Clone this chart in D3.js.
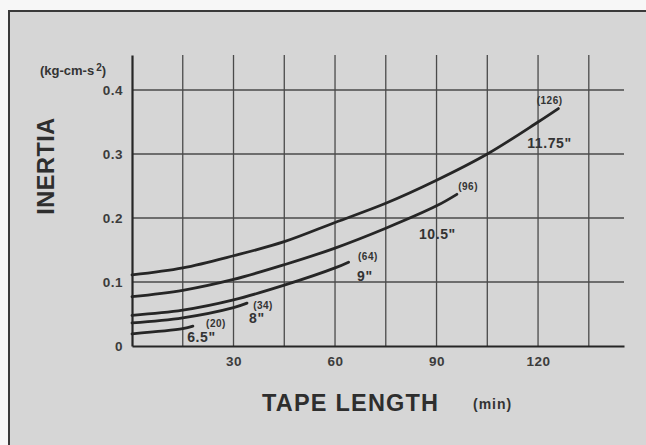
<!DOCTYPE html>
<html>
<head>
<meta charset="utf-8">
<script src="https://cdn.jsdelivr.net/npm/d3@7.9.0/dist/d3.min.js"></script>
<style>
  html, body { margin: 0; overflow: hidden; background: #f7f7f7; }
  svg { display: block; font-family: "Liberation Sans", Arial, sans-serif; font-weight: bold; }
</style>
</head>
<body>
<svg id="chart" width="646" height="445"></svg>
<script>
// reel sizes and their inertia curves (tape length in min, inertia in kg-cm-s^2)
const reels = ["11.75\"", "10.5\"", "9\"", "8\"", "6.5\""];
const maxLengths = ["(126)", "(96)", "(64)", "(34)", "(20)"];

const reel1175 = [[0, 0.111], [15, 0.122], [30, 0.141], [45, 0.163], [60, 0.193], [75, 0.223], [90, 0.259], [105, 0.300], [120, 0.350], [126, 0.371]];
const reel105 = [[0, 0.077], [15, 0.087], [30, 0.104], [45, 0.127], [60, 0.153], [75, 0.184], [90, 0.219], [96, 0.237]];
const reel9 = [[0, 0.048], [15, 0.056], [30, 0.072], [45, 0.095], [60, 0.122], [64, 0.131]];
const reel8 = [[0, 0.036], [15, 0.044], [30, 0.060], [34, 0.067]];
const reel65 = [[0, 0.019], [15, 0.027], [18, 0.031]];
const series = [reel1175, reel105, reel9, reel8, reel65];

const xTicks = [30, 60, 90, 120];
const xGrid = [15, 30, 45, 60, 75, 90, 105, 120, 135];
const yTicks = [0, 0.1, 0.2, 0.3, 0.4];

// label anchors in data units: [min, inertia]
const sizeLabelAt = [[116.8, 0.309], [84.8, 0.167], [66.5, 0.102], [34.6, 0.036], [16.3, 0.006]];
const lengthLabelAt = [[119.6, 0.378], [96.4, 0.244], [66.8, 0.134], [35.8, 0.058], [21.9, 0.030]];

const svg = d3.select("#chart");

// paper panel, border on left and top
svg.append("rect")
  .attr("x", 9).attr("y", 11)
  .attr("width", 640).attr("height", 440)
  .attr("fill", "#d6d6d6");
svg.append("path")
  .attr("d", "M9,445V11H646")
  .attr("fill", "none")
  .attr("stroke", "#3a3a3a")
  .attr("stroke-width", 2);

const x = d3.scaleLinear().domain([0, 145.4]).range([132, 624]);
const y = d3.scaleLinear().domain([0, 0.4547]).range([346, 55]);

const ink = "#262626";
const gridInk = "#4a4a4a";

// grid
svg.append("g")
  .selectAll("line")
  .data(xGrid)
  .join("line")
  .attr("x1", (d) => x(d)).attr("x2", (d) => x(d))
  .attr("y1", y(0)).attr("y2", y.range()[1])
  .attr("stroke", gridInk)
  .attr("stroke-width", 1.3);

svg.append("g")
  .selectAll("line")
  .data(yTicks.filter((d) => d > 0))
  .join("line")
  .attr("x1", x(0)).attr("x2", x.range()[1])
  .attr("y1", (d) => y(d)).attr("y2", (d) => y(d))
  .attr("stroke", gridInk)
  .attr("stroke-width", 1.3);

// axes
const xAxis = svg.append("g")
  .attr("transform", `translate(0,${y(0)})`)
  .call(d3.axisBottom(x).tickValues(xTicks).tickSize(0).tickPadding(10));
xAxis.select(".domain").attr("stroke", ink).attr("stroke-width", 2.2);
xAxis.selectAll("text").attr("font-size", 13.5).attr("fill", "#3c3c3c")
  .attr("font-family", "Liberation Sans, Arial, sans-serif").attr("font-weight", "bold")
  .attr("letter-spacing", 0.5);

const yAxis = svg.append("g")
  .attr("transform", `translate(${x(0)},0)`)
  .call(d3.axisLeft(y).tickValues(yTicks).tickSize(0).tickPadding(9)
    .tickFormat((d) => (d === 0 ? "0" : d3.format(".1f")(d))));
yAxis.select(".domain").attr("stroke", ink).attr("stroke-width", 2.2);
yAxis.selectAll("text").attr("font-size", 13.5).attr("fill", "#3c3c3c")
  .attr("font-family", "Liberation Sans, Arial, sans-serif").attr("font-weight", "bold")
  .attr("letter-spacing", 0.5);

// curves
const line = d3.line()
  .x((d) => x(d[0]))
  .y((d) => y(d[1]))
  .curve(d3.curveCatmullRom.alpha(0.5));

svg.append("g")
  .selectAll("path")
  .data(series)
  .join("path")
  .attr("d", line)
  .attr("fill", "none")
  .attr("stroke", ink)
  .attr("stroke-width", 2.8)
  .attr("stroke-linecap", "round");

// annotations
svg.append("g")
  .selectAll("text")
  .data(reels)
  .join("text")
  .attr("x", (d, i) => x(sizeLabelAt[i][0]))
  .attr("y", (d, i) => y(sizeLabelAt[i][1]))
  .attr("font-size", 14)
  .attr("letter-spacing", 0.6)
  .attr("fill", "#333")
  .text((d) => d);

svg.append("g")
  .selectAll("text")
  .data(maxLengths)
  .join("text")
  .attr("x", (d, i) => x(lengthLabelAt[i][0]))
  .attr("y", (d, i) => y(lengthLabelAt[i][1]))
  .attr("font-size", 10)
  .attr("letter-spacing", 0.5)
  .attr("fill", "#333")
  .text((d) => d);

// axis titles
svg.append("text")
  .attr("x", 73).attr("y", 75)
  .attr("text-anchor", "middle")
  .attr("font-size", 13)
  .attr("fill", "#333")
  .html('(kg-cm-s<tspan dy="-4" dx="2" font-size="10">2</tspan><tspan dy="4">)</tspan>');

svg.append("text")
  .attr("transform", "translate(54,166) rotate(-90)")
  .attr("text-anchor", "middle")
  .attr("font-size", 23.5)
  .attr("letter-spacing", 0.5)
  .attr("fill", "#2e2e2e")
  .text("INERTIA");

svg.append("text")
  .attr("x", 262).attr("y", 411)
  .attr("font-size", 23.5)
  .attr("letter-spacing", 1.2)
  .attr("fill", "#2e2e2e")
  .text("TAPE LENGTH");

svg.append("text")
  .attr("x", 473).attr("y", 409)
  .attr("font-size", 14)
  .attr("letter-spacing", 1)
  .attr("fill", "#333")
  .text("(min)");
</script>
</body>
</html>
